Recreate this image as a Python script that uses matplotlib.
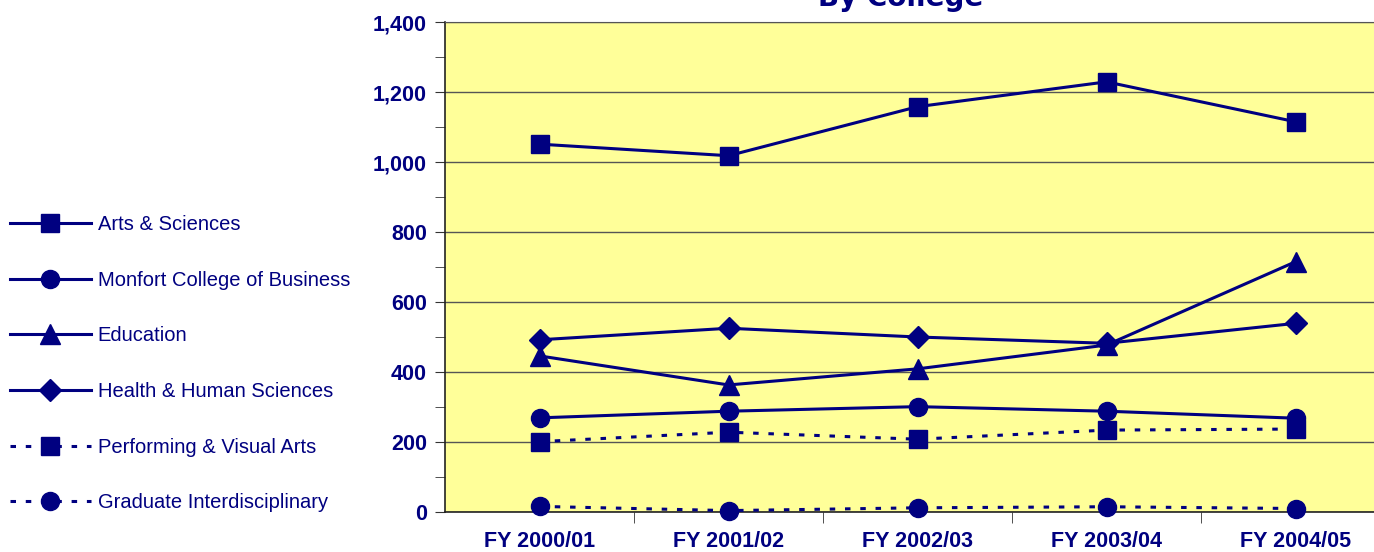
import matplotlib.pyplot as plt
from matplotlib.lines import Line2D
from matplotlib.ticker import MultipleLocator, FuncFormatter

years = ["FY 2000/01", "FY 2001/02", "FY 2002/03", "FY 2003/04", "FY 2004/05"]

arts_sciences = [1051, 1018, 1158, 1229, 1115]
monfort = [269, 288, 301, 288, 268]
education = [446, 363, 409, 477, 715]
health = [492, 525, 500, 482, 539]
performing = [201, 228, 208, 234, 237]
graduate = [16, 4, 12, 15, 10]

series_names = ["Arts & Sciences", "Monfort College of Business", "Education",
                "Health & Human Sciences", "Performing & Visual Arts",
                "Graduate Interdisciplinary"]

navy = "#000080"
plt.rcParams['font.family'] = ['Liberation Sans', 'DejaVu Sans']

fig = plt.figure(figsize=(13.74, 5.52), dpi=100)
ax = fig.add_axes([445/1374, 1 - 512/552, 945/1374, 490/552])
ax.set_facecolor("#FFFF99")

dots = (0, (1.8, 3.2))
x = range(len(years))
styles = [
    (arts_sciences, "s", "-", 13),
    (monfort, "o", "-", 13),
    (education, "^", "-", 14),
    (health, "D", "-", 11.5),
    (performing, "s", dots, 13),
    (graduate, "o", dots, 13),
]
handles = []
for (vals, mk, ls, ms), name in zip(styles, series_names):
    ax.plot(x, vals, color=navy, lw=2.2, ls=ls, marker=mk, ms=ms,
            mfc=navy, mec=navy, zorder=3, clip_on=False)
    handles.append(Line2D([], [], color=navy, lw=2.2, ls=ls, marker=mk,
                          ms=ms, mfc=navy, mec=navy))

ax.set_xlim(-0.5, 4.5)
ax.set_ylim(0, 1400)
ax.yaxis.set_major_locator(MultipleLocator(200))
ax.yaxis.set_minor_locator(MultipleLocator(100))
ax.yaxis.set_major_formatter(FuncFormatter(lambda v, p: f"{int(v):,}"))
ax.grid(axis="y", which="major", color="#555555", lw=1)
ax.set_axisbelow(True)

ax.set_xticks(list(x))
ax.set_xticklabels(years)
ax.set_xticks([0.5, 1.5, 2.5, 3.5], minor=True)
ax.tick_params(axis="x", which="major", length=0, pad=14)
ax.tick_params(axis="x", which="minor", length=8, color="#333333")
ax.tick_params(axis="y", which="both", length=7, color="#333333", pad=6)
for lab in ax.get_xticklabels() + ax.get_yticklabels():
    lab.set_fontsize(15.5)
    lab.set_fontweight("bold")
    lab.set_color(navy)

for s in ["left", "bottom"]:
    ax.spines[s].set_color("#222222")
    ax.spines[s].set_linewidth(1.2)
ax.spines["top"].set_color("#555555")
ax.spines["right"].set_visible(False)

# title is partly cut off at the top edge, as in the original
fig.text(901/1374, 1 - 6/552, "By College", ha="center", va="baseline",
         fontsize=20, fontweight="bold", color=navy, family=["DejaVu Sans"])

leg = fig.legend(handles, series_names, loc="upper left",
                 bbox_to_anchor=(-8/1374, 1 - 197/552), frameon=False,
                 fontsize=14.5, handlelength=4.0, handletextpad=0.35,
                 labelspacing=1.82, labelcolor=navy)

fig.savefig("out.png", dpi=100)
